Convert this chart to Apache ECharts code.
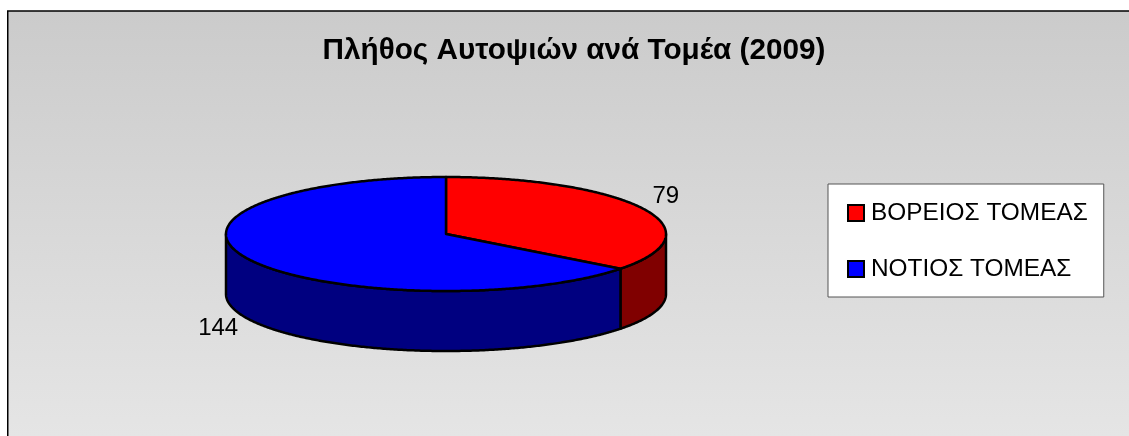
<!DOCTYPE html>
<html>
<head>
<meta charset="utf-8">
<title>Πλήθος Αυτοψιών ανά Τομέα (2009)</title>
<script src="https://cdn.jsdelivr.net/npm/echarts@6/dist/echarts.min.js"></script>
<style>
  html, body { margin: 0; padding: 0; background: #fff; }
  #chart { width: 1129px; height: 436px; }
</style>
</head>
<body>
<div id="chart"></div>
<script>
const chartTitle = 'Πλήθος Αυτοψιών ανά Τομέα (2009)'
const sectors = ['ΒΟΡΕΙΟΣ ΤΟΜΕΑΣ', 'ΝΟΤΙΟΣ ΤΟΜΕΑΣ']
const inspections = [79, 144]
const topColors = ['#ff0000', '#0000ff']
const wallColors = ['#800000', '#000080']

// echarts has no flat 3d pie, so the ellipse is built here from the values
const cx = 446, cy = 234, rx = 220, ry = 57, depth = 60
const labelGapX = [25, 34]
const labelGapY = 25
const total = inspections.reduce((a, b) => a + b, 0)

// angle is clockwise from 12 o'clock, in degrees
const onRim = (deg, drop) => {
  const r = deg * Math.PI / 180
  return [cx + rx * Math.sin(r), cy - ry * Math.cos(r) + drop]
}

const arcPoints = (from, to, drop) => {
  const pts = []
  for (let d = from; d < to; d += 0.5) pts.push(onRim(d, drop))
  pts.push(onRim(to, drop))
  return pts
}

const sliceStart = i => inspections.slice(0, i).reduce((a, b) => a + b, 0) / total * 360

const renderSlice = i => () => {
  const start = sliceStart(i)
  const end = start + inspections[i] / total * 360
  const children = []
  const line = { stroke: '#000', lineWidth: 2.5, lineJoin: 'round' }

  // only the front half of the wall can be seen
  const wallFrom = Math.max(start, 90), wallTo = Math.min(end, 270)
  if (wallFrom < wallTo) {
    const wall = arcPoints(wallFrom, wallTo, 0).concat(arcPoints(wallFrom, wallTo, depth).reverse())
    children.push({ type: 'polygon', z2: 1, shape: { points: wall }, style: { fill: wallColors[i], ...line } })
  }

  const top = [[cx, cy]].concat(arcPoints(start, end, 0))
  children.push({ type: 'polygon', z2: 2, shape: { points: top }, style: { fill: topColors[i], ...line } })

  const mid = (start + end) / 2 * Math.PI / 180
  const front = Math.cos(mid) < 0
  children.push({
    type: 'text',
    z2: 3,
    x: cx + (rx + labelGapX[i]) * Math.sin(mid),
    y: cy - (ry + labelGapY) * Math.cos(mid) + (front ? depth : 0) - 1.5,
    style: {
      text: String(inspections[i]),
      fill: '#000',
      font: '24px "Liberation Sans", Arial, sans-serif',
      textAlign: 'center',
      textVerticalAlign: 'middle'
    }
  })
  return { type: 'group', children }
}

const chart = echarts.init(document.getElementById('chart'), null, { renderer: 'canvas' })
chart.setOption({
  animation: false,
  title: {
    text: chartTitle,
    left: 569,
    top: 31,
    textAlign: 'center',
    textStyle: { color: '#000', fontSize: 29.7, fontWeight: 'bold', fontFamily: '"Liberation Sans", Arial, sans-serif' }
  },
  legend: {
    orient: 'vertical',
    left: 828,
    top: 184,
    padding: [17, 16, 16, 19],
    itemGap: 32,
    itemWidth: 16,
    itemHeight: 16,
    icon: 'rect',
    backgroundColor: '#fff',
    borderColor: '#555',
    borderWidth: 1,
    textStyle: { color: '#000', fontSize: 24.4, padding: [0, 0, 0, 2], fontFamily: '"Liberation Sans", Arial, sans-serif' },
    itemStyle: { borderColor: '#000', borderWidth: 2 },
    data: sectors
  },
  graphic: [{
    type: 'rect',
    z: -1,
    shape: { x: 7.75, y: 11, width: 1200, height: 500 },
    style: {
      stroke: '#000',
      lineWidth: 1.5,
      fill: new echarts.graphic.LinearGradient(0, 0, 0, 1, [
        { offset: 0, color: '#cbcbcb' },
        { offset: 0.85, color: '#e5e5e5' },
        { offset: 1, color: '#e8e8e8' }
      ])
    }
  }],
  series: sectors.map((name, i) => ({
    type: 'custom',
    name,
    coordinateSystem: 'none',
    silent: true,
    itemStyle: { color: topColors[i] },
    data: [inspections[i]],
    renderItem: renderSlice(i)
  }))
})
</script>
</body>
</html>
